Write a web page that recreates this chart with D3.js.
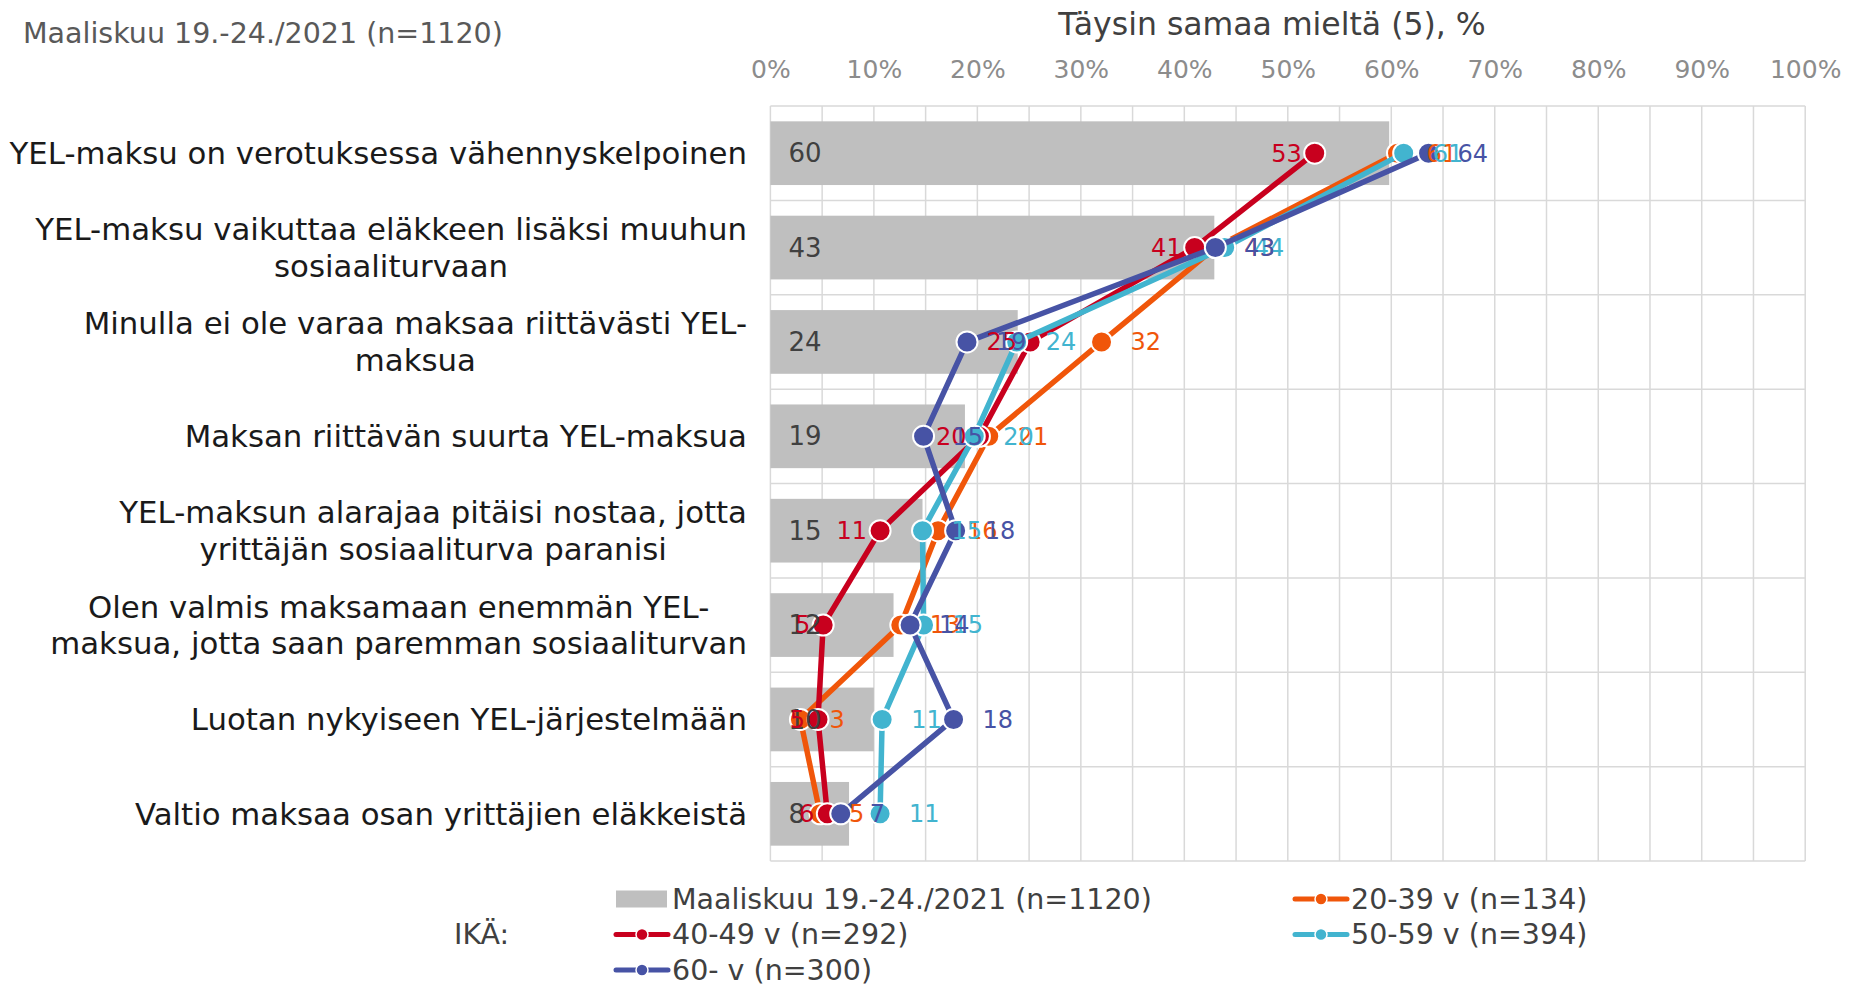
<!DOCTYPE html>
<html lang="fi">
<head>
<meta charset="UTF-8" />
<title>Täysin samaa mieltä (5), %</title>
<script src="https://d3js.org/d3.v7.min.js"></script>
<style>
    body { margin: 0; background: #fff; font-family: "DejaVu Sans", Verdana, sans-serif; }
    svg { display: block; }
</style>
</head>
<body>
<div id="chart"></div>
<script>
    const categories = [
        "YEL-maksu on verotuksessa vähennyskelpoinen",
        "YEL-maksu vaikuttaa eläkkeen lisäksi muuhun\nsosiaaliturvaan",
        "Minulla ei ole varaa maksaa riittävästi YEL-\nmaksua",
        "Maksan riittävän suurta YEL-maksua",
        "YEL-maksun alarajaa pitäisi nostaa, jotta\nyrittäjän sosiaaliturva paranisi",
        "Olen valmis maksamaan enemmän YEL-\nmaksua, jotta saan paremman sosiaaliturvan",
        "Luotan nykyiseen YEL-järjestelmään",
        "Valtio maksaa osan yrittäjien eläkkeistä"
    ];
    const totalValues = [59.8, 42.9, 23.9, 18.8, 14.7, 11.9, 10.0, 7.6];
    const age2039 = [60.6, 43.0, 32.0, 21.1, 16.2, 12.6, 2.9, 4.8];
    const age4049 = [52.6, 41.0, 25.1, 20.2, 10.6, 5.1, 4.6, 5.5];
    const age5059 = [61.2, 43.9, 23.8, 19.7, 14.7, 14.8, 10.8, 10.6];
    const age60 = [63.6, 43.0, 19.0, 14.8, 17.9, 13.5, 17.7, 6.8];
    const tickValues = [0, 10, 20, 30, 40, 50, 60, 70, 80, 90, 100];

    const totalName = "Maaliskuu 19.-24./2021 (n=1120)";
    const series = [
        { name: "20-39 v (n=134)", values: age2039, color: "#F0560A", side: "right" },
        { name: "40-49 v (n=292)", values: age4049, color: "#C8001E", side: "left" },
        { name: "50-59 v (n=394)", values: age5059, color: "#42B4CF", side: "right" },
        { name: "60- v (n=300)", values: age60, color: "#4753A5", side: "right" }
    ];

    const W = 1850, H = 985;
    const svg = d3.select("#chart").append("svg")
        .attr("width", W).attr("height", H);

    const x = d3.scaleLinear().domain([0, 100]).range([770.4, 1805.2]);
    const y = d3.scaleBand().domain(categories).range([106, 861])
        .paddingInner(0.325).paddingOuter(0.1625);
    const yc = c => y(c) + y.bandwidth() / 2;

    // title top-left
    svg.append("text")
        .attr("x", 23).attr("y", 33).attr("dy", "0.35em")
        .style("font-size", "28.5px").style("fill", "#595959")
        .text(totalName);

    // axis title
    svg.append("text")
        .attr("x", 1272).attr("y", 24).attr("dy", "0.35em")
        .attr("text-anchor", "middle")
        .style("font-size", "31.5px").style("fill", "#404040")
        .text("Täysin samaa mieltä (5), %");

    // gridlines
    const grid = svg.append("g").attr("stroke", "#D9D9D9").attr("stroke-width", 1.5);
    grid.selectAll("line.v").data(x.ticks(20)).enter().append("line")
        .attr("x1", d => x(d)).attr("x2", d => x(d))
        .attr("y1", y.range()[0]).attr("y2", y.range()[1]);
    const gap = (y.step() - y.bandwidth()) / 2;
    const hLines = categories.map(c => y(c) - gap).concat([y.range()[1]]);
    grid.selectAll("line.h").data(hLines).enter().append("line")
        .attr("x1", x(0)).attr("x2", x(100))
        .attr("y1", d => d).attr("y2", d => d);

    // top axis
    const axis = svg.append("g")
        .attr("transform", "translate(0,77.5)")
        .call(d3.axisTop(x).tickValues(tickValues).tickFormat(d => d + "%").tickSize(0).tickPadding(0));
    axis.select(".domain").remove();
    axis.selectAll("text")
        .style("font-family", "DejaVu Sans, Verdana, sans-serif")
        .style("font-size", "25px").style("fill", "#8C8C8C");

    // category labels: block right-aligned, lines centred inside the block
    const catG = svg.append("g");
    categories.forEach(c => {
        const lines = c.split("\n");
        const t = catG.append("text")
            .attr("text-anchor", "middle")
            .style("font-size", "30.8px").style("fill", "#1A1A1A");
        const spans = lines.map((ln, i) => t.append("tspan")
            .attr("y", yc(c) + (i - (lines.length - 1) / 2) * 36.6)
            .attr("dy", "0.35em")
            .text(ln));
        const maxW = d3.max(spans, s => s.node().getComputedTextLength());
        spans.forEach(s => s.attr("x", 747 - maxW / 2));
    });

    // bars
    svg.append("g").selectAll("rect")
        .data(categories).enter().append("rect")
        .attr("x", x(0))
        .attr("y", d => y(d))
        .attr("width", (d, i) => x(totalValues[i]) - x(0))
        .attr("height", y.bandwidth())
        .attr("fill", "#BFBFBF");

    // lines + markers
    const line = d3.line().x(d => x(d.v)).y(d => yc(d.c));
    series.forEach(s => {
        const pts = categories.map((c, i) => ({ c: c, v: s.values[i] }));
        const g = svg.append("g");
        g.append("path").datum(pts)
            .attr("d", line)
            .attr("fill", "none")
            .attr("stroke", s.color)
            .attr("stroke-width", 5.5)
            .attr("stroke-linejoin", "round");
        g.selectAll("circle").data(pts).enter().append("circle")
            .attr("cx", d => x(d.v)).attr("cy", d => yc(d.c))
            .attr("r", 10.5)
            .attr("fill", s.color)
            .attr("stroke", "#fff").attr("stroke-width", 2);
    });

    // bar labels
    svg.append("g").selectAll("text")
        .data(categories).enter().append("text")
        .attr("x", x(0) + 18)
        .attr("y", d => yc(d)).attr("dy", "0.35em")
        .style("font-size", "26px").style("fill", "#404040")
        .text((d, i) => Math.round(totalValues[i]));

    // series labels
    series.forEach(s => {
        svg.append("g").selectAll("text")
            .data(categories).enter().append("text")
            .attr("x", (d, i) => s.side === "left" ? x(s.values[i]) - 13 : x(s.values[i]) + 29)
            .attr("y", d => yc(d)).attr("dy", "0.35em")
            .attr("text-anchor", s.side === "left" ? "end" : "start")
            .style("font-size", "24px").style("fill", s.color)
            .text((d, i) => Math.round(s.values[i]));
    });

    // legend
    const leg = svg.append("g").style("font-size", "28.5px").style("fill", "#404040");
    const rows = [899, 934.5, 970];
    leg.append("text").attr("x", 454).attr("y", rows[1]).attr("dy", "0.35em").text("IKÄ:");
    leg.append("rect").attr("x", 616).attr("y", rows[0] - 8.5).attr("width", 51).attr("height", 17).attr("fill", "#BFBFBF");
    leg.append("text").attr("x", 672).attr("y", rows[0]).attr("dy", "0.35em").text(totalName);

    const legPos = [[1295, rows[0]], [616, rows[1]], [1295, rows[1]], [616, rows[2]]];
    series.forEach((s, i) => {
        const [lx, ly] = legPos[i];
        leg.append("line")
            .attr("x1", lx).attr("x2", lx + 52).attr("y1", ly).attr("y2", ly)
            .attr("stroke", s.color).attr("stroke-width", 5).attr("stroke-linecap", "round");
        leg.append("circle")
            .attr("cx", lx + 26).attr("cy", ly).attr("r", 6)
            .attr("fill", s.color).attr("stroke", "#fff").attr("stroke-width", 1.5);
        leg.append("text").attr("x", lx + 56).attr("y", ly).attr("dy", "0.35em").text(s.name);
    });
</script>
</body>
</html>
